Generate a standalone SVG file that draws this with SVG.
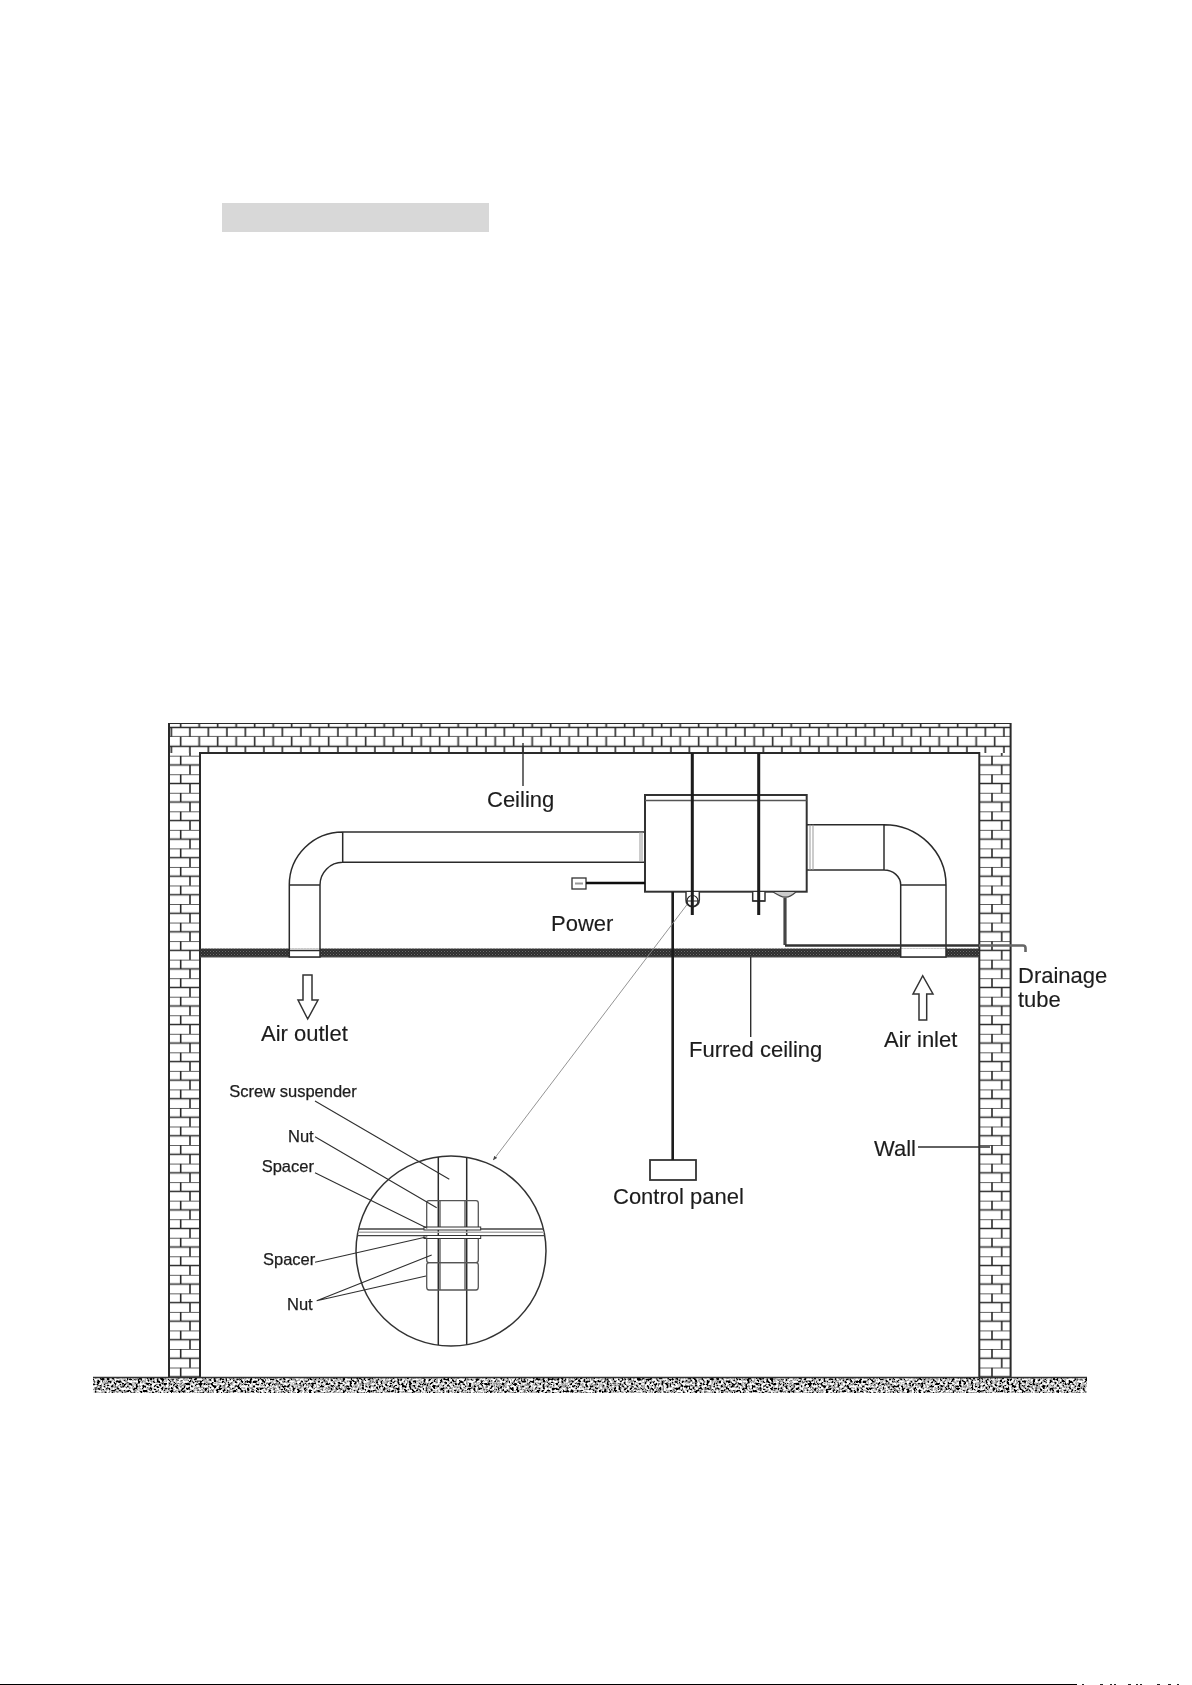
<svg xmlns="http://www.w3.org/2000/svg" width="1192" height="1685" viewBox="0 0 1192 1685">
<style>
.l{fill:none;stroke:#2b2b2b;stroke-width:1.5}
.b{fill:#fff;stroke:#333;stroke-width:1.5}
.t{fill:#1c1c1c;font-family:"Liberation Sans",Arial,sans-serif;font-size:22px;stroke:#1c1c1c;stroke-width:0.15}
.s{fill:#1c1c1c;font-family:"Liberation Sans",Arial,sans-serif;font-size:16.5px;stroke:#1c1c1c;stroke-width:0.25}
.lead{fill:none;stroke:#2f2f2f;stroke-width:1.4}
.rod{fill:none;stroke:#1a1a1a;stroke-width:3}
</style>
<defs>
<filter id="soft" x="0" y="0" width="1" height="1"><feGaussianBlur stdDeviation="0.45"/></filter>
<filter id="noise" x="0" y="0" width="1" height="1">
<feTurbulence type="fractalNoise" baseFrequency="0.42" numOctaves="2" seed="4"/>
<feColorMatrix type="matrix" values="2 2 2 0 -2.55 2 2 2 0 -2.55 2 2 2 0 -2.55 0 0 0 0 1"/>
<feGaussianBlur stdDeviation="0.5"/>
</filter>
<pattern id="brickH" patternUnits="userSpaceOnUse" x="176.2" y="718" width="18.5" height="18.9">
<rect width="18.5" height="18.9" fill="#fff"/>
<path d="M0 9.5H18.5M0 18.9H18.5M4.5 0V9.5M13.7 9.5V18.9" fill="none" stroke="#2b2b2b" stroke-width="1.6"/>
</pattern>
<pattern id="brickL" patternUnits="userSpaceOnUse" x="169" y="755.7" width="31" height="18.54">
<rect width="31" height="18.54" fill="#fff"/>
<path d="M0 0H31M0 9.27H31M11.7 0V9.27M21 9.27V18.54" fill="none" stroke="#2b2b2b" stroke-width="1.6"/>
</pattern>
<pattern id="brickR" patternUnits="userSpaceOnUse" x="979.3" y="755.7" width="31.3" height="18.54">
<rect width="31.3" height="18.54" fill="#fff"/>
<path d="M0 0H31.3M0 9.27H31.3M12.7 0V9.27M22.4 9.27V18.54" fill="none" stroke="#2b2b2b" stroke-width="1.6"/>
</pattern>
<pattern id="hatch" patternUnits="userSpaceOnUse" width="3" height="3">
<rect width="3" height="3" fill="#2e2e2e"/>
<rect x="0" y="0" width="1" height="1" fill="#6a6a6a"/>
<rect x="1.5" y="1.5" width="1" height="1" fill="#5a5a5a"/>
</pattern>
<marker id="tip" markerWidth="5" markerHeight="5" refX="4.5" refY="2.5" orient="auto"><path d="M0 0.6L5 2.5L0 4.4Z" fill="#444"/></marker>
<clipPath id="lens"><circle cx="451" cy="1251" r="95"/></clipPath>
</defs>
<rect width="1192" height="1685" fill="#fff"/>
<rect id="grey-bar" x="222" y="203" width="267" height="29" fill="#d8d8d8"/>
<g filter="url(#soft)">
<g id="floor">
<rect x="93" y="1377" width="994" height="16" fill="#888" filter="url(#noise)"/>
<path d="M93 1377.5H1087" stroke="#333" stroke-width="1.5" fill="none"/>
</g>
<g id="wall">
<rect x="169" y="753" width="31" height="624" fill="url(#brickL)"/>
<rect x="979.3" y="753" width="31.3" height="624" fill="url(#brickR)"/>
<rect x="169" y="723" width="841.6" height="30" fill="url(#brickH)"/>
<path class="l" style="stroke-width:2" d="M169 1377V723H1010.6V1377M200 1377V753H979.3V1377"/>
</g>
<g id="furred-ceiling">
<rect x="200" y="948.5" width="779.3" height="8.5" fill="url(#hatch)"/>
<path d="M200 957H979" stroke="#555" stroke-width="1" fill="none"/>
</g>
<g id="duct-outlet">
<rect x="290" y="948.5" width="30" height="8.5" fill="#fff"/>
<path class="l" d="M645 832H342.7A53.4 53 0 0 0 289.3 885V957H320V885A22.7 22.7 0 0 1 342.7 862.3H645M342.7 832V862.3M289.3 885H320M290 950.5H320M290 957H320"/>
<path d="M640 832V862M642 832V862" fill="none" stroke="#999" stroke-width="1"/>
</g>
<g id="duct-inlet">
<rect x="901" y="948.5" width="45" height="8.5" fill="#fff"/>
<path class="l" d="M807 824.7H884A62 60.3 0 0 1 946 885V957H900.7V885A16.7 15 0 0 0 884 870H807M884 824.7V870M900.7 885H946M901 957H946"/>
<path d="M810 824.7V870M813 824.7V870" fill="none" stroke="#999" stroke-width="1"/>
</g>
<g id="unit">
<rect class="b" x="645" y="795" width="161.7" height="96.7" style="stroke-width:2"/>
<path d="M645 800.5H806.7" stroke="#555" stroke-width="1.5" fill="none"/>
<path class="b" d="M686 892V900Q686 906 692.5 907Q699.3 906 699.3 900V892"/>
<path class="b" d="M752.7 892V901H765V892"/>
<path d="M773 892Q783 898 785 897Q789 898 796 892" fill="#ccc" stroke="#444" stroke-width="1.2"/>
<path class="rod" d="M692.3 753V915M758.7 753V915"/>
<circle cx="692.5" cy="901" r="5.5" fill="none" stroke="#222" stroke-width="1.2"/>
<path d="M686 901H699M752.7 901H765" stroke="#222" stroke-width="1.2" fill="none"/>
</g>
<g id="power">
<rect class="b" x="572" y="878" width="14" height="11" style="stroke-width:1.3"/>
<path d="M575 883.5H583" stroke="#999" stroke-width="2"/>
</g>
<g id="drainage">
<path d="M785 898V945" stroke="#444" stroke-width="3.2" fill="none"/>
<path d="M785 945.5H979" fill="none" stroke="#333" stroke-width="2.6"/>
<path d="M979 945.5H1023Q1025.5 945.5 1025.5 948V952" fill="none" stroke="#666" stroke-width="2.6"/>
</g>
<g id="control-panel">
<rect class="b" x="650" y="1160" width="46" height="20" style="stroke-width:1.8"/>
</g>
<g id="arrow-out"><path class="b" d="M303 975H312V1000H318L307.7 1019L298 1000H303Z"/></g>
<g id="arrow-in"><path class="b" d="M919 1020H926.7V994H933L922.7 975.7L913 994H919Z"/></g>
<g id="detail">
<circle class="b" cx="451" cy="1251" r="95"/>
<g clip-path="url(#lens)">
<path class="l" d="M438.3 1150V1350M466.7 1150V1350"/>
<path d="M350 1229H552M350 1235.7H552" stroke="#444" stroke-width="1.3" fill="none"/>
<path d="M350 1232.3H552" stroke="#aaa" stroke-width="1.5" fill="none"/>
</g>
<path d="M429 1200.7H476Q478.3 1200.7 478.3 1203V1228M426.7 1228V1203Q426.7 1200.7 429 1200.7M440 1200.7V1228M465 1200.7V1228" fill="none" stroke="#555" stroke-width="1.3"/>
<rect x="424" y="1227" width="56.7" height="3" fill="#fff" stroke="#333" stroke-width="1"/>
<rect x="424" y="1235.5" width="56.7" height="3" fill="#fff" stroke="#333" stroke-width="1"/>
<path d="M426.7 1238.5V1260Q426.7 1262.7 429 1262.7H476Q478.3 1262.7 478.3 1260V1238.5M440 1238.5V1262.7M465 1238.5V1262.7" fill="none" stroke="#555" stroke-width="1.3"/>
<path d="M429 1262.7H476Q478.3 1262.7 478.3 1265V1287Q478.3 1290 476 1290H429Q426.7 1290 426.7 1287V1265Q426.7 1262.7 429 1262.7M440 1262.7V1290M465 1262.7V1290" fill="none" stroke="#555" stroke-width="1.3"/>
</g>
<g id="connectors">
<path class="rod" style="stroke-width:2.6" d="M672.7 892V1160"/>
<path d="M586 883H645" stroke="#111" stroke-width="2.4" fill="none"/>
<path class="lead" d="M523 743V786"/>
<path class="lead" d="M750.7 957V1037"/>
<path class="lead" d="M918 1147H990"/>
<path d="M686.7 905L493.3 1160" fill="none" stroke="#888" stroke-width="0.9" marker-end="url(#tip)"/>
<path class="lead" style="stroke-width:1.1" d="M315 1101L449.3 1179.3M315 1136.7L436.7 1207.7M315 1172.7L427.3 1228.3M315 1262.3L427.3 1236.7M316.7 1300.7L431.7 1255M316.7 1300.7L426 1276"/>
</g>
<g id="labels">
<text class="t" x="487" y="807">Ceiling</text>
<text class="t" x="551" y="931">Power</text>
<text class="t" x="261" y="1041">Air outlet</text>
<text class="t" x="884" y="1047">Air inlet</text>
<text class="t" x="689" y="1057">Furred ceiling</text>
<text class="t" x="1018" y="983">Drainage</text>
<text class="t" x="1018" y="1007">tube</text>
<text class="t" x="874" y="1156">Wall</text>
<text class="t" x="613" y="1204">Control panel</text>
<text class="s" x="229.3" y="1097">Screw suspender</text>
<text class="s" x="288" y="1142">Nut</text>
<text class="s" x="261.7" y="1172">Spacer</text>
<text class="s" x="263" y="1265">Spacer</text>
<text class="s" x="287" y="1310">Nut</text>
</g>
</g>
<rect id="bottom-rule" x="0" y="1684" width="1077" height="1" fill="#000"/>
<path d="M1082 1684.5h2M1100 1684.5h3M1110 1684.5h2M1114 1684.5h2M1128 1684.5h3M1136 1684.5h2M1140 1684.5h2M1157 1684.5h3M1168 1684.5h3M1177 1684.5h2" stroke="#222" stroke-width="1" fill="none"/>
</svg>
